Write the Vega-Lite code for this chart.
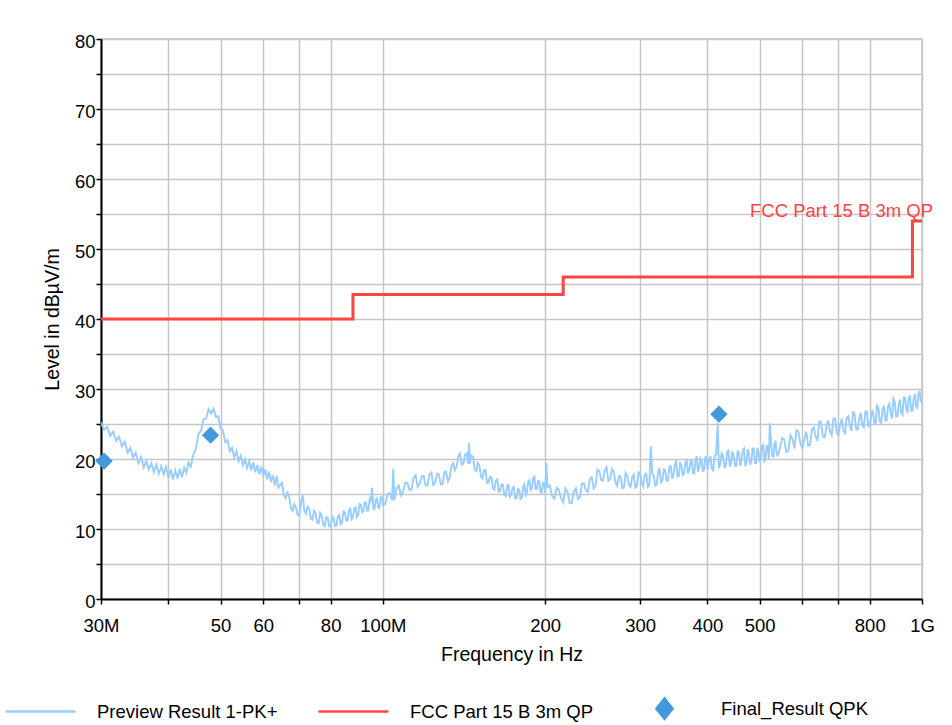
{
  "$schema": "https://vega.github.io/schema/vega-lite/v6.json",
  "width": 821,
  "height": 560,
  "autosize": {"type": "none"},
  "padding": {"left": 101, "top": 39, "right": 30, "bottom": 126},
  "background": "white",
  "config": {
    "font": "Liberation Sans",
    "view": {"stroke": "#c6c6c6", "strokeWidth": 1.5},
    "axis": {
      "domainColor": "#000", "domainWidth": 2,
      "tickColor": "#000", "tickWidth": 1.5, "tickSize": 5,
      "gridColor": "#c6c6c6", "gridWidth": 1.5, "gridOpacity": 1,
      "labelFont": "Liberation Sans", "labelFontSize": 18.5, "labelColor": "#000",
      "titleFont": "Liberation Sans", "titleFontSize": 19.5, "titleFontWeight": "normal", "titleColor": "#000"
    }
  },
  "datasets": {
    "preview": [
      {"f":30,"v":25.2},{"f":30.4,"v":24.2},{"f":30.8,"v":24.6},{"f":31.2,"v":23.3},{"f":31.6,"v":23.9},{"f":32,"v":22.6},{"f":32.4,"v":23.2},{"f":32.8,"v":21.8},{"f":33.2,"v":22.5},{"f":33.6,"v":20.9},{"f":34,"v":21.6},{"f":34.4,"v":20.2},{"f":34.8,"v":20.9},{"f":35.2,"v":19.4},{"f":35.6,"v":20.3},{"f":36,"v":18.8},{"f":36.4,"v":19.7},{"f":36.8,"v":18.5},{"f":37.2,"v":19.4},{"f":37.6,"v":18.1},{"f":38,"v":19.2},{"f":38.4,"v":17.9},{"f":38.8,"v":19},{"f":39.2,"v":17.8},{"f":39.6,"v":18.9},{"f":40,"v":17.3},{"f":40.4,"v":18.5},{"f":40.8,"v":17.1},{"f":41.2,"v":18.4},{"f":41.6,"v":17.2},{"f":42,"v":18.6},{"f":42.4,"v":17.4},{"f":42.8,"v":18.8},{"f":43.2,"v":18},{"f":43.6,"v":19.5},{"f":44,"v":18.9},
      {"f":44.5,"v":20.6},{"f":45,"v":21.5},{"f":45.5,"v":23.6},{"f":46,"v":24},{"f":46.5,"v":25.7},{"f":47,"v":25.8},{"f":47.5,"v":27.1},{"f":48,"v":26.5},{"f":48.5,"v":27.2},{"f":49,"v":26},{"f":49.5,"v":26.1},{"f":50,"v":24.3},{"f":50.5,"v":24.1},{"f":51,"v":22.4},{"f":51.5,"v":22.7},{"f":52,"v":21.1},{"f":52.5,"v":21.6},{"f":53,"v":20.2},{"f":53.5,"v":21.1},{"f":54,"v":19.7},{"f":54.5,"v":20.5},{"f":55,"v":19.1},{"f":55.5,"v":20},{"f":56,"v":18.7},{"f":56.5,"v":19.7},{"f":57,"v":18.4},{"f":57.5,"v":19.5},{"f":58,"v":18.1},{"f":58.5,"v":19.1},{"f":59,"v":17.8},{"f":59.5,"v":18.9},{"f":60,"v":17.6},{"f":60.5,"v":18.5},{"f":61,"v":17.1},{"f":61.5,"v":18.2},{"f":62,"v":16.7},{"f":62.5,"v":17.7},{"f":63,"v":16.2},{"f":63.5,"v":17.6},{"f":64,"v":15.9},
      {"f":65,"v":16.6},{"f":66,"v":14.4},{"f":67,"v":14.7},{"f":68,"v":12.6},{"f":69,"v":13},{"f":70,"v":11.9},{"f":71,"v":14.8},{"f":72,"v":12.2},{"f":73,"v":12.9},{"f":74,"v":11.3},{"f":75,"v":12.3},{"f":76,"v":10.8},{"f":77,"v":11.9},{"f":78,"v":10.4},{"f":79,"v":11.6},{"f":80,"v":10.3},{"f":81,"v":11.6},{"f":82,"v":10.5},{"f":83,"v":12},{"f":84,"v":10.9},{"f":85,"v":12.4},{"f":86,"v":11.2},{"f":87,"v":12.9},{"f":88,"v":11.7},{"f":89,"v":13.1},{"f":90,"v":12},{"f":91,"v":13.5},{"f":92,"v":12.5},{"f":93,"v":13.8},{"f":94,"v":12.7},{"f":95,"v":14},{"f":95.5,"v":15.9},{"f":96,"v":12.9},{"f":97,"v":14.2},{"f":98,"v":13.1},{"f":99,"v":14.5},{"f":100,"v":13.4},
      {"f":102,"v":15},{"f":104,"v":14.1},{"f":104.5,"v":18.6},{"f":106,"v":15.8},{"f":108,"v":14.8},{"f":110,"v":16.6},{"f":112,"v":15.6},{"f":114,"v":17.3},{"f":116,"v":16},{"f":118,"v":17.5},{"f":120,"v":16.2},{"f":122,"v":17.8},{"f":124,"v":16.3},{"f":126,"v":17.9},{"f":128,"v":16.4},{"f":130,"v":18.1},{"f":132,"v":16.8},{"f":134,"v":19},{"f":136,"v":18.4},{"f":138,"v":20.4},{"f":140,"v":19.2},{"f":142,"v":20.6},{"f":144,"v":19.3},{"f":144.5,"v":22.3},{"f":146,"v":20.5},{"f":148,"v":18.5},{"f":150,"v":19.4},{"f":152,"v":17.5},{"f":154,"v":18.4},{"f":156,"v":16.6},{"f":158,"v":17.5},{"f":160,"v":15.8},{"f":162,"v":16.9},{"f":164,"v":15.3},{"f":166,"v":16.4},{"f":168,"v":14.8},{"f":170,"v":16.1},{"f":172,"v":14.6},{"f":174,"v":15.9},{"f":176,"v":14.4},{"f":178,"v":15.7},{"f":180,"v":14.3},{"f":182,"v":16},{"f":184,"v":14.9},{"f":186,"v":16.8},{"f":188,"v":15.6},{"f":190,"v":17.3},{"f":192,"v":15.7},{"f":194,"v":16.9},{"f":196,"v":15.3},{"f":198,"v":16.6},{"f":200,"v":15.2},{"f":201,"v":19.4},
      {"f":204,"v":16.2},{"f":208,"v":14.3},{"f":212,"v":15.6},{"f":216,"v":13.8},{"f":220,"v":15.3},{"f":224,"v":13.7},{"f":228,"v":15.8},{"f":232,"v":14.5},{"f":236,"v":16.5},{"f":240,"v":15.3},{"f":244,"v":17.4},{"f":248,"v":16.2},{"f":252,"v":18.3},{"f":256,"v":16.9},{"f":260,"v":18.8},{"f":264,"v":17.1},{"f":268,"v":18.2},{"f":272,"v":16.2},{"f":276,"v":17.5},{"f":280,"v":15.9},{"f":284,"v":17.6},{"f":288,"v":16},{"f":292,"v":17.8},{"f":296,"v":16.1},{"f":300,"v":17.9},{"f":304,"v":16.1},{"f":308,"v":17.9},{"f":312,"v":16.2},{"f":314,"v":21.8},{"f":316,"v":17.9},{"f":320,"v":16.2},{"f":324,"v":18.2},{"f":328,"v":16.5},{"f":332,"v":18.5},{"f":336,"v":16.9},{"f":340,"v":18.9},{"f":344,"v":17.2},{"f":348,"v":19.2},{"f":352,"v":17.5},{"f":356,"v":19.4},{"f":360,"v":17.7},{"f":364,"v":19.6},{"f":368,"v":17.9},{"f":372,"v":19.8},{"f":376,"v":18},{"f":380,"v":19.9},{"f":384,"v":18.2},{"f":388,"v":20.1},{"f":392,"v":18.3},{"f":396,"v":20.2},{"f":400,"v":18.5},
      {"f":405,"v":20.4},{"f":410,"v":18.4},{"f":415,"v":20.6},{"f":418,"v":25.1},{"f":420,"v":18.7},{"f":425,"v":20.8},{"f":430,"v":18.8},{"f":435,"v":21},{"f":440,"v":18.9},{"f":445,"v":21.1},{"f":450,"v":19},{"f":455,"v":21.1},{"f":460,"v":19},{"f":465,"v":21.2},{"f":470,"v":19.1},{"f":475,"v":21.4},{"f":480,"v":19.2},{"f":485,"v":21.5},{"f":490,"v":19.4},{"f":495,"v":21.6},{"f":500,"v":19.5},{"f":505,"v":21.8},{"f":510,"v":19.7},{"f":515,"v":22},{"f":520,"v":19.9},{"f":522,"v":25.1},{"f":525,"v":22.2},{"f":530,"v":20.2},{"f":535,"v":22.6},{"f":540,"v":20.5},{"f":550,"v":23},{"f":560,"v":21},{"f":570,"v":23.4},{"f":580,"v":21.5},{"f":590,"v":23.9},
      {"f":600,"v":21.5},{"f":610,"v":23.9},{"f":620,"v":22},{"f":630,"v":24.5},{"f":640,"v":22.6},{"f":650,"v":25.2},{"f":660,"v":23.1},{"f":670,"v":25.5},{"f":680,"v":23.4},{"f":690,"v":25.8},
      {"f":700,"v":23.4},{"f":710,"v":25.8},{"f":720,"v":23.7},{"f":730,"v":26.1},{"f":740,"v":24},{"f":750,"v":26.3},{"f":760,"v":24.2},{"f":770,"v":26.6},{"f":780,"v":24.5},{"f":790,"v":26.8},{"f":800,"v":24.7},{"f":810,"v":27},{"f":820,"v":24.9},{"f":830,"v":27.3},{"f":840,"v":25.2},{"f":850,"v":27.6},{"f":860,"v":25.5},{"f":870,"v":27.9},{"f":880,"v":25.8},{"f":890,"v":28.2},{"f":900,"v":26.1},{"f":910,"v":28.5},{"f":920,"v":26.3},{"f":930,"v":28.8},{"f":940,"v":26.6},{"f":950,"v":29.1},{"f":960,"v":26.9},{"f":970,"v":29.3},{"f":980,"v":27.2},{"f":990,"v":29.6},{"f":1000,"v":28.1},
      {"f":64.5,"v":16.3},{"f":65.5,"v":14.9},{"f":66.5,"v":15.2},{"f":67.5,"v":13},{"f":68.5,"v":13.6},{"f":69.5,"v":12},{"f":70.5,"v":13.9},{"f":71.5,"v":12.6},{"f":72.5,"v":13.2},{"f":73.5,"v":11.5},{"f":74.5,"v":12.6},{"f":75.5,"v":10.9},{"f":76.5,"v":12.3},{"f":77.5,"v":10.6},{"f":78.5,"v":11.7},{"f":79.5,"v":10.4},{"f":80.5,"v":11.8},{"f":81.5,"v":10.4},{"f":82.5,"v":11.8},{"f":83.5,"v":10.7},{"f":84.5,"v":12.5},{"f":85.5,"v":11.2},{"f":86.5,"v":12.7},{"f":87.5,"v":11.4},{"f":88.5,"v":12.9},{"f":89.5,"v":11.7},{"f":90.5,"v":13.6},{"f":91.5,"v":12.4},{"f":92.5,"v":13.8},{"f":93.5,"v":12.6},{"f":94.5,"v":14.3},{"f":96.5,"v":12.9},{"f":97.5,"v":14.4},{"f":98.5,"v":13},{"f":99.5,"v":14.6},
      {"f":101,"v":13.6},{"f":103,"v":15.1},{"f":105,"v":14.1},{"f":107,"v":16.2},{"f":109,"v":15.3},{"f":111,"v":16.6},{"f":113,"v":15.6},{"f":115,"v":17.7},{"f":117,"v":16.5},{"f":119,"v":17.6},{"f":121,"v":16.2},{"f":123,"v":18.1},{"f":125,"v":16.6},{"f":127,"v":17.8},{"f":129,"v":16.4},{"f":131,"v":18.2},{"f":133,"v":17.3},{"f":135,"v":19.4},{"f":137,"v":18.9},{"f":139,"v":20.8},{"f":141,"v":19.3},{"f":143,"v":20.8},{"f":145,"v":19.4},{"f":147,"v":20.3},{"f":149,"v":18.3},{"f":151,"v":19.1},{"f":153,"v":17.2},{"f":155,"v":18.4},{"f":157,"v":16.6},{"f":159,"v":17.4},{"f":161,"v":15.6},{"f":163,"v":17.1},{"f":165,"v":15.4},{"f":167,"v":16.3},{"f":169,"v":14.7},{"f":171,"v":16.3},{"f":173,"v":14.9},{"f":175,"v":16},{"f":177,"v":14.4},{"f":179,"v":15.6},{"f":181,"v":14.4},{"f":183,"v":16.4},{"f":185,"v":15.3},{"f":187,"v":17},{"f":189,"v":15.8},{"f":191,"v":17.5},{"f":193,"v":15.7},{"f":195,"v":16.8},{"f":197,"v":15.2},{"f":199,"v":16.5},
      {"f":202,"v":16},{"f":206,"v":14.7},{"f":210,"v":15.9},{"f":214,"v":14.4},{"f":218,"v":15.8},{"f":222,"v":13.7},{"f":226,"v":15.3},{"f":230,"v":14.3},{"f":234,"v":16.5},{"f":238,"v":15.5},{"f":242,"v":17.1},{"f":246,"v":15.8},{"f":250,"v":18.5},{"f":254,"v":17},{"f":258,"v":18.4},{"f":262,"v":16.9},{"f":266,"v":18.6},{"f":270,"v":16.7},{"f":274,"v":17.6},{"f":278,"v":15.8},{"f":282,"v":18},{"f":286,"v":16.3},{"f":290,"v":17.4},{"f":294,"v":15.9},{"f":298,"v":18.1},{"f":302,"v":16.6},{"f":306,"v":17.8},{"f":310,"v":16},{"f":318,"v":17.7},{"f":322,"v":16.3},{"f":326,"v":18.7},{"f":330,"v":17},{"f":334,"v":18.4},{"f":338,"v":16.9},{"f":342,"v":19},{"f":346,"v":17.8},{"f":350,"v":19.6},{"f":354,"v":17.6},{"f":358,"v":19.1},{"f":362,"v":17.9},{"f":366,"v":19.8},{"f":370,"v":18.4},{"f":374,"v":19.7},{"f":378,"v":17.9},{"f":382,"v":20.4},{"f":386,"v":18.6},{"f":390,"v":19.8},{"f":394,"v":18.4},{"f":398,"v":20.3},
      {"f":402.5,"v":19.7},{"f":407.5,"v":18.7},{"f":412.5,"v":20.5},{"f":422.5,"v":19.3},{"f":427.5,"v":20.5},{"f":432.5,"v":18.9},{"f":437.5,"v":21.2},{"f":442.5,"v":19.5},{"f":447.5,"v":20.4},{"f":452.5,"v":19},{"f":457.5,"v":21},{"f":462.5,"v":19.8},{"f":467.5,"v":21.5},{"f":472.5,"v":19.3},{"f":477.5,"v":20.8},{"f":482.5,"v":19.7},{"f":487.5,"v":21.5},{"f":492.5,"v":19.4},{"f":497.5,"v":20.9},{"f":502.5,"v":20.1},{"f":507.5,"v":22},{"f":512.5,"v":19.9},{"f":517.5,"v":21.6},{"f":527.5,"v":20.6},{"f":532.5,"v":22.1},{"f":537.5,"v":20.7},
      {"f":545,"v":21.5},{"f":555,"v":22.8},{"f":565,"v":21.2},{"f":575,"v":22.9},{"f":585,"v":24.1},{"f":595,"v":22.2},{"f":605,"v":22.9},{"f":615,"v":21.9},{"f":625,"v":24.2},{"f":635,"v":23.2},{"f":645,"v":25.4},{"f":655,"v":23.2},{"f":665,"v":24.8},{"f":675,"v":23.9},{"f":685,"v":25.8},{"f":695,"v":23.7},{"f":705,"v":24.9},{"f":715,"v":24},{"f":725,"v":25.9},{"f":735,"v":24.7},{"f":745,"v":26.8},{"f":755,"v":24.2},{"f":765,"v":25.8},{"f":775,"v":24.8},{"f":785,"v":26.8},{"f":795,"v":24.7},{"f":805,"v":26.1},{"f":815,"v":25.4},{"f":825,"v":27.6},{"f":835,"v":25.4},{"f":845,"v":27},{"f":855,"v":25.5},{"f":865,"v":27.6},{"f":875,"v":26.5},{"f":885,"v":28.6},{"f":895,"v":26.1},{"f":905,"v":27.6},{"f":915,"v":26.6},{"f":925,"v":28.8},{"f":935,"v":27.2},{"f":945,"v":28.7},{"f":955,"v":26.9},{"f":965,"v":28.6},{"f":975,"v":27.6},{"f":985,"v":29.5},{"f":995,"v":28.2}
    ],
    "limit": [
      {"f":30,"v":40},{"f":88,"v":43.5},{"f":216,"v":46},{"f":960,"v":54},{"f":1000,"v":54}
    ],
    "final": [
      {"f":30.4,"v":19.7},{"f":47.9,"v":23.4},{"f":420,"v":26.4}
    ],
    "labels": [
      {"f":1000,"v":54,"t":"FCC Part 15 B 3m QP"}
    ]
  },
  "encoding": {
    "x": {
      "field": "f", "type": "quantitative",
      "scale": {"type": "log", "domain": [30, 1000], "nice": false, "zero": false},
      "axis": {
        "title": "Frequency in Hz",
        "values": [30,40,50,60,70,80,100,200,300,400,500,600,700,800,1000],
        "format": "d",
        "labelExpr": "datum.value == 30 ? '30M' : datum.value == 100 ? '100M' : datum.value == 1000 ? '1G' : (datum.value == 40 || datum.value == 70 || datum.value == 600 || datum.value == 700) ? '' : datum.label",
        "labelFlush": false, "labelOverlap": false, "labelBound": false,
        "labelPadding": 12, "titlePadding": 11
      }
    },
    "y": {
      "field": "v", "type": "quantitative",
      "scale": {"domain": [0, 80], "nice": false, "zero": true},
      "axis": {
        "title": "Level in dBµV/m",
        "values": [0,5,10,15,20,25,30,35,40,45,50,55,60,65,70,75,80],
        "labelExpr": "datum.value % 10 == 0 ? datum.label : ''",
        "labelPadding": 1, "labelOffset": 2, "titlePadding": 12, "labelOverlap": false
      }
    }
  },
  "layer": [
    {
      "data": {"name": "preview"},
      "mark": {"type": "line", "strokeWidth": 1.9, "clip": true},
      "encoding": {
        "color": {
          "datum": "Preview Result 1-PK+",
          "type": "nominal",
          "scale": {
            "domain": ["Preview Result 1-PK+", "FCC Part 15 B 3m QP", "Final_Result QPK"],
            "range": ["#99ccff", "#ff4444", "#4499dd"]
          },
          "legend": {
            "orient": "none", "legendX": -97, "legendY": 633,
            "direction": "horizontal", "title": null,
            "labelFont": "Liberation Sans", "labelFontSize": 18.5, "labelColor": "#000", "labelLimit": 0,
            "labelOffset": 20, "columnPadding": 35,
            "symbolType": "stroke", "symbolSize": 4900, "symbolStrokeWidth": 2.5,
            "encoding": {
              "symbols": {
                "shape": {"condition": {"test": "datum.value === 'Final_Result QPK'", "value": "M0,-0.29L0.23,0L0,0.29L-0.23,0Z"}, "value": "stroke"},
                "fill": {"condition": {"test": "datum.value === 'Final_Result QPK'", "value": "#4499dd"}, "value": "transparent"},
                "stroke": {"condition": [{"test": "datum.value === 'Preview Result 1-PK+'", "value": "#99ccff"}, {"test": "datum.value === 'FCC Part 15 B 3m QP'", "value": "#ff4444"}], "value": "#4499dd"},
                "opacity": {"value": 1}
              }
            }
          }
        }
      }
    },
    {
      "data": {"name": "limit"},
      "mark": {"type": "line", "strokeWidth": 3, "interpolate": "step-after"},
      "encoding": {"color": {"datum": "FCC Part 15 B 3m QP", "type": "nominal"}}
    },
    {
      "data": {"name": "final"},
      "mark": {"type": "point", "shape": "diamond", "filled": true, "size": 300, "opacity": 1},
      "encoding": {"color": {"datum": "Final_Result QPK", "type": "nominal"}}
    },
    {
      "data": {"name": "labels"},
      "mark": {"type": "text", "align": "right", "baseline": "alphabetic", "dx": 11, "dy": -4, "fontSize": 18.5, "font": "Liberation Sans", "color": "#ff4444"},
      "encoding": {"text": {"field": "t"}}
    }
  ]
}
